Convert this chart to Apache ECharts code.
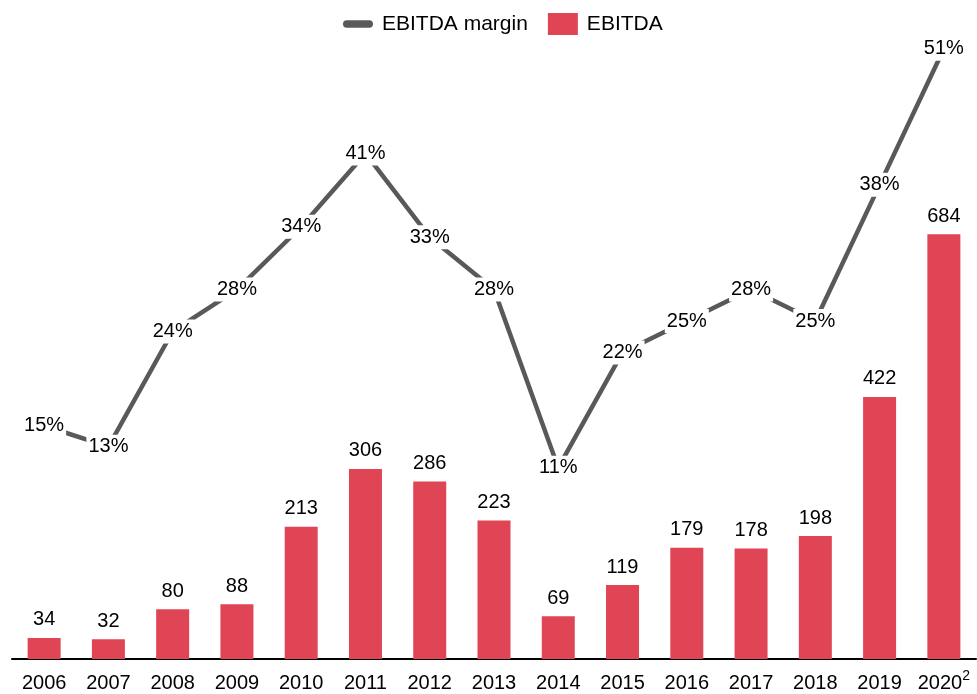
<!DOCTYPE html>
<html>
<head>
<meta charset="utf-8">
<script src="https://cdn.jsdelivr.net/npm/echarts@6/dist/echarts.min.js"></script>
<style>
  html, body { margin: 0; padding: 0; background: #fff; }
  #main { width: 977px; height: 694px; }
</style>
</head>
<body>
<div id="main"></div>
<script>
// data
const years = ['2006', '2007', '2008', '2009', '2010', '2011', '2012', '2013', '2014', '2015', '2016', '2017', '2018', '2019', '2020'];
const ebitda = [34, 32, 80, 88, 213, 306, 286, 223, 69, 119, 179, 178, 198, 422, 684];
const margin = [15, 13, 24, 28, 34, 41, 33, 28, 11, 22, 25, 28, 25, 38, 51];

const RED = '#E04555';
const GREY = '#595959';
const FONT = '"Liberation Sans", Arial, sans-serif';

const chart = echarts.init(document.getElementById('main'), null, { renderer: 'canvas' });

const option = {
  backgroundColor: '#fff',
  textStyle: { fontFamily: FONT },
  legend: {
    top: 8,
    left: 338,
    itemGap: 20,
    itemWidth: 30,
    itemHeight: 22,
    textStyle: { fontSize: 21, color: '#000', fontFamily: FONT, padding: [0, 0, 0, 4] },
    data: [
      { name: 'EBITDA margin', icon: 'path://M3,0 L21,0 A3,3 0 0 1 21,6 L3,6 A3,3 0 0 1 3,0 Z', itemStyle: { color: GREY } },
      { name: 'EBITDA', icon: 'rect' }
    ]
  },
  grid: { left: 12, right: 1, top: 38, bottom: 35, containLabel: false, outerBoundsMode: 'none' },
  xAxis: {
    type: 'category',
    data: years,
    axisTick: { show: false },
    axisLine: { lineStyle: { color: '#000', width: 2 } },
    axisLabel: {
      interval: 0,
      margin: 6,
      color: '#000',
      fontFamily: FONT,
      verticalAlign: 'top',
      formatter: function (v) {
        // footnote mark on the last year
        return v === '2020' ? '{n|' + v + '}{sup|2}' : '{n|' + v + '}';
      },
      rich: {
        n: { fontSize: 20, lineHeight: 28, verticalAlign: 'bottom', color: '#000', fontFamily: FONT },
        sup: { fontSize: 14, lineHeight: 18, verticalAlign: 'bottom', padding: [0, 0, 10, 0], color: '#000', fontFamily: FONT }
      }
    }
  },
  yAxis: [
    { type: 'value', min: 0, max: 1000, show: false, splitLine: { show: false } },
    { type: 'value', min: -7.27, max: 52.02, show: false, splitLine: { show: false } }
  ],
  series: [
    {
      name: 'EBITDA',
      type: 'bar',
      data: ebitda,
      barWidth: 33,
      itemStyle: { color: RED },
      label: {
        show: true,
        position: 'top',
        distance: 8,
        fontSize: 20,
        color: '#000',
        fontFamily: FONT
      },
      z: 2
    },
    {
      name: 'EBITDA margin',
      type: 'line',
      yAxisIndex: 1,
      data: margin,
      symbol: 'circle',
      symbolSize: 0,
      showSymbol: true,
      itemStyle: { color: GREY },
      lineStyle: { color: GREY, width: 4.5 },
      label: {
        show: true,
        position: 'inside',
        formatter: '{c}%',
        fontSize: 20,
        color: '#000',
        fontFamily: FONT,
        backgroundColor: '#fff',
        padding: [2, 2]
      },
      z: 3
    }
  ],
  animation: false
};

chart.setOption(option);
</script>
</body>
</html>
